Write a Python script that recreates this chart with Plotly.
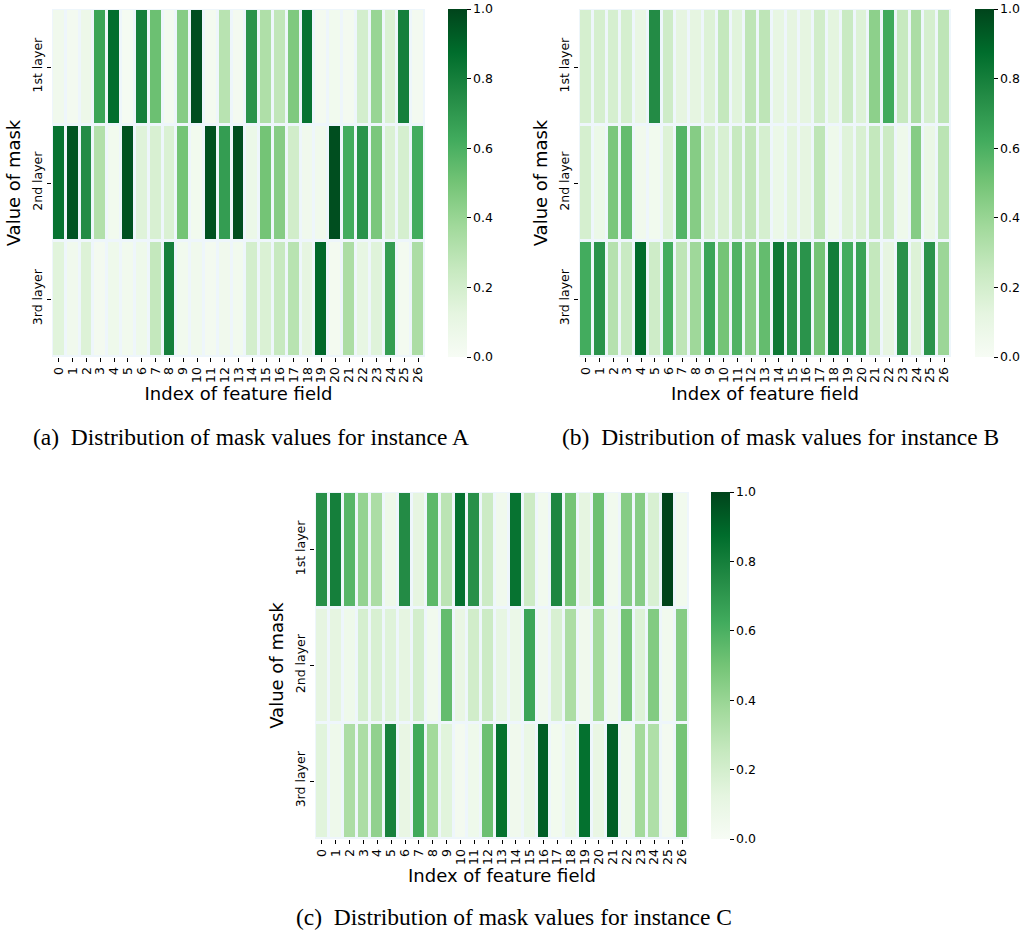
import plotly.graph_objects as go

fields = [str(i) for i in range(27)]
layers = ["1st layer", "2nd layer", "3rd layer"]

# Instance A
a_l1 = [0.05, 0.03, 0.07, 0.65, 0.87, 0.02, 0.80, 0.52, 0.03, 0.45, 0.97, 0.03, 0.30, 0.03,
        0.72, 0.33, 0.27, 0.47, 0.85, 0.03, 0.04, 0.03, 0.20, 0.40, 0.17, 0.80, 0.03]
a_l2 = [0.85, 0.95, 0.75, 0.32, 0.04, 0.96, 0.15, 0.18, 0.17, 0.50, 0.04, 0.96, 0.68, 0.97,
        0.08, 0.50, 0.45, 0.21, 0.05, 0.05, 0.97, 0.62, 0.72, 0.48, 0.17, 0.19, 0.62]
a_l3 = [0.14, 0.05, 0.16, 0.03, 0.06, 0.04, 0.06, 0.26, 0.80, 0.04, 0.05, 0.03, 0.05, 0.04,
        0.20, 0.17, 0.25, 0.30, 0.12, 0.89, 0.03, 0.34, 0.11, 0.15, 0.68, 0.03, 0.34]

# Instance B
b_l1 = [0.19, 0.19, 0.19, 0.19, 0.10, 0.75, 0.22, 0.12, 0.12, 0.16, 0.26, 0.14, 0.28, 0.28,
        0.11, 0.12, 0.12, 0.21, 0.13, 0.24, 0.16, 0.43, 0.63, 0.25, 0.34, 0.19, 0.28]
b_l2 = [0.19, 0.08, 0.48, 0.54, 0.05, 0.04, 0.16, 0.58, 0.45, 0.19, 0.18, 0.25, 0.27, 0.19,
        0.08, 0.13, 0.12, 0.28, 0.06, 0.15, 0.18, 0.26, 0.23, 0.06, 0.45, 0.09, 0.29]
b_l3 = [0.62, 0.72, 0.31, 0.24, 0.88, 0.22, 0.62, 0.28, 0.38, 0.65, 0.50, 0.59, 0.45, 0.54,
        0.83, 0.72, 0.72, 0.50, 0.81, 0.62, 0.66, 0.26, 0.12, 0.73, 0.16, 0.72, 0.39]

# Instance C
c_l1 = [0.73, 0.80, 0.57, 0.41, 0.34, 0.07, 0.75, 0.12, 0.56, 0.29, 0.86, 0.73, 0.23, 0.05,
        0.85, 0.23, 0.04, 0.77, 0.50, 0.12, 0.52, 0.04, 0.45, 0.45, 0.18, 1.00, 0.04]
c_l2 = [0.12, 0.12, 0.06, 0.19, 0.18, 0.15, 0.12, 0.20, 0.04, 0.54, 0.10, 0.21, 0.23, 0.11,
        0.08, 0.65, 0.05, 0.18, 0.34, 0.05, 0.37, 0.05, 0.50, 0.16, 0.46, 0.04, 0.45]
c_l3 = [0.14, 0.06, 0.34, 0.34, 0.42, 0.79, 0.10, 0.63, 0.37, 0.14, 0.03, 0.06, 0.52, 0.86,
        0.05, 0.09, 0.92, 0.04, 0.09, 0.86, 0.10, 0.92, 0.05, 0.37, 0.33, 0.03, 0.50]

captions = ["(a)\u00a0 Distribution of mask values for instance A",
            "(b)\u00a0 Distribution of mask values for instance B",
            "(c)\u00a0 Distribution of mask values for instance C"]

greens = [[0.0, "#f7fcf5"], [0.125, "#e5f5e0"], [0.25, "#c7e9c0"], [0.375, "#a1d99b"],
          [0.5, "#74c476"], [0.625, "#41ab5d"], [0.75, "#238b45"], [0.875, "#006d2c"],
          [1.0, "#00441b"]]

W, H = 1026, 932
# pixel boxes: (left, right, top, bottom), colorbar left
boxes = [(52, 425, 9, 357, 448), (579, 951, 9, 357, 975), (315, 689, 492, 839, 711)]
data = [[a_l1, a_l2, a_l3], [b_l1, b_l2, b_l3], [c_l1, c_l2, c_l3]]

fig = go.Figure()
tickfont = dict(family="DejaVu Sans", size=12.5, color="#000")
titlefont = dict(family="DejaVu Sans", size=18, color="#000")
bg = "#eef6fb"

for i, (z, (l, r, t, b, cbx)) in enumerate(zip(data, boxes)):
    xa = "x" if i == 0 else f"x{i+1}"
    ya = "y" if i == 0 else f"y{i+1}"
    fig.add_trace(go.Heatmap(
        z=z, x=fields, y=layers, colorscale=greens, zmin=0, zmax=1,
        xgap=3, ygap=3, xaxis=xa, yaxis=ya,
        colorbar=dict(
            x=cbx / W, xanchor="left", y=1 - (t + b) / 2 / H, yanchor="middle",
            len=(b - t), lenmode="pixels", thickness=19, thicknessmode="pixels",
            outlinewidth=0, tick0=0, dtick=0.2, tickformat=".1f",
            ticks="outside", ticklen=4, tickwidth=0.8, tickcolor="#000",
            tickfont=tickfont, xpad=0, ypad=0,
        ),
    ))
    xk = "xaxis" if i == 0 else f"xaxis{i+1}"
    yk = "yaxis" if i == 0 else f"yaxis{i+1}"
    fig.layout[xk] = dict(
        domain=[l / W, r / W], anchor=ya, tickangle=-90, tickfont=tickfont,
        ticks="outside", ticklen=4, tickwidth=0.8, tickcolor="#000",
        showgrid=False, zeroline=False, showline=False, tickmode="array",
        tickvals=fields, ticktext=fields, automargin=False,
        title=dict(text="Index of feature field", font=titlefont, standoff=4),
    )
    fig.layout[yk] = dict(
        domain=[1 - b / H, 1 - t / H], anchor=xa, tickangle=-90, tickfont=tickfont,
        ticks="outside", ticklen=4, tickwidth=0.8, tickcolor="#000",
        showgrid=False, zeroline=False, showline=False, autorange="reversed",
        automargin=False,
        title=dict(text="Value of mask", font=titlefont, standoff=4),
    )

cap_pos = [(251, 437), (780, 437), (514, 917)]
for txt, (cx, cy) in zip(captions, cap_pos):
    fig.add_annotation(text=txt, x=cx / W, y=1 - cy / H, xref="paper", yref="paper",
                       showarrow=False, xanchor="center", yanchor="middle",
                       font=dict(family="Liberation Serif", size=23.5, color="#000"))

fig.update_layout(width=W, height=H,
                  margin=dict(l=0, r=0, t=0, b=0, autoexpand=False),
                  paper_bgcolor="white", plot_bgcolor=bg, showlegend=False)

fig.write_html("out.html", config={"displayModeBar": False},
               post_script="document.body.style.margin='0';document.body.style.overflow='hidden';")
